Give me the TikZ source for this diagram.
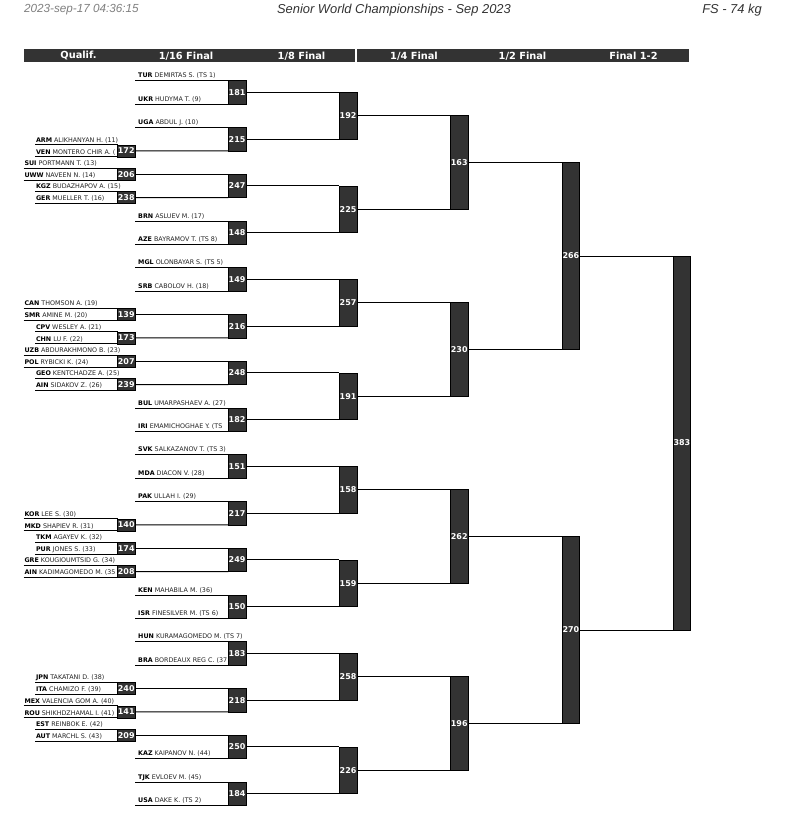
\documentclass[tikz,border=0pt]{standalone}
\usepackage{fontspec}
\newfontfamily\dvfont{DejaVu Sans}
\newfontfamily\lsfont{Liberation Sans}
\definecolor{boxgray}{HTML}{333333}
\definecolor{namegray}{HTML}{222222}
\definecolor{dategray}{HTML}{7F7F7F}
\tikzset{
  mbox/.style={draw=black, line width=0.6pt, fill=boxgray, text=white,
    font=\dvfont\bfseries\fontsize{8}{8}\selectfont, inner sep=0pt, outer sep=0pt,
    minimum width=17.5pt, anchor=north east},
  wire/.style={line width=0.9pt, draw=black},
  nm/.style={anchor=base west, inner sep=0pt, text=namegray,
    font=\dvfont\fontsize{6.35}{7}\selectfont},
  hdr/.style={text=white, inner sep=0pt, font=\dvfont\bfseries\fontsize{9.8}{10}\selectfont},
  ttl/.style={inner sep=0pt, font=\lsfont\itshape\fontsize{12.9}{13}\selectfont},
}
% qualification match: label, x left, slot y, top code, top name, bottom code, bottom name
\newcommand\qm[7]{%
  \pgfmathsetmacro\qt{#3-6}\pgfmathsetmacro\qb{#3+6}%
  \node[nm] (q#1t) at (#2+0.8,\qt-2.8) {\textbf{\color{black}#4} #5};
  \node[nm] (q#1b) at (#2+0.8,\qb-2.8) {\textbf{\color{black}#6} #7};
  \node[mbox, minimum height=12pt] (q#1) at (135,\qt) {#1};
  \coordinate (q#1l) at (#2,\qt);
  \coordinate (q#1m) at (#2,\qb);
  \draw[wire] (q#1l) -- (q#1.north west);
  \draw[wire] (q#1m) -- (q#1.south west);
}
% 1/16 match: label, y top, top text, bottom text, top source, bottom source
\newcommand\sxm[6]{%
  \pgfmathsetmacro\st{#2}\pgfmathsetmacro\sb{#2+23.4}%
  \coordinate (s#1t) at (135,\st);
  \coordinate (s#1b) at (135,\sb);
  \if\relax\detokenize{#3}\relax\else\node[nm] (n#1t) at (138,\st-2.8) {#3};\fi
  \if\relax\detokenize{#4}\relax\else\node[nm] (n#1b) at (138,\sb-2.8) {#4};\fi
  \node[mbox, minimum height=23.4pt] (m#1) at (245.8,\st) {#1};
  \draw[wire] (#5) -- (m#1.north west);
  \draw[wire] (#6) -- (m#1.south west);
}
% later rounds: label, x right, y top, y bottom, top child, bottom child
\newcommand\hm[6]{%
  \pgfmathsetmacro\hh{#4-#3}%
  \node[mbox, minimum height=\hh pt] (m#1) at (#2,#3) {#1};
  \draw[wire] (#5.east) -- (m#1.north west);
  \draw[wire] (#6.east) -- (m#1.south west);
}
\newcommand\cn[2]{\textbf{\color{black}#1} #2}
\begin{document}
\begin{tikzpicture}[x=1pt,y=-1pt]
\useasboundingbox (0,0) rectangle (787,821);
% title row
\node[ttl, anchor=west, text=dategray] (date) at (24,10) {\fontsize{11.7}{12}\selectfont 2023-sep-17 04:36:15};
\node[ttl, text=boxgray] (title) at (394,10) {Senior World Championships - Sep 2023};
\node[ttl, anchor=east, text=boxgray] (cat) at (762,10) {FS - 74 kg};
% header bar
\fill[boxgray] (23.5,49) rectangle (355.4,62.5);
\fill[boxgray] (356.9,49) rectangle (688.5,62.5);
\node[hdr] (h0) at (78.5,55.8) {Qualif.};
\node[hdr] (h1) at (186,55.8) {1/16 Final};
\node[hdr] (h2) at (301.5,55.8) {1/8 Final};
\node[hdr] (h3) at (414,55.8) {1/4 Final};
\node[hdr] (h4) at (522.5,55.8) {1/2 Final};
\node[hdr] (h5) at (633.5,55.8) {Final 1-2};
% qualification
\qm{172}{35}{150.85}{ARM}{ALIKHANYAN H. (11)}{VEN}{MONTERO CHIR A. (}
\qm{206}{23.5}{174.2}{SUI}{PORTMANN T. (13)}{UWW}{NAVEEN N. (14)}
\qm{238}{35}{197.6}{KGZ}{BUDAZHAPOV A. (15)}{GER}{MUELLER T. (16)}
\qm{139}{23.5}{314.45}{CAN}{THOMSON A. (19)}{SMR}{AMINE M. (20)}
\qm{173}{35}{337.85}{CPV}{WESLEY A. (21)}{CHN}{LU F. (22)}
\qm{207}{23.5}{361.2}{UZB}{ABDURAKHMONO B. (23)}{POL}{RYBICKI K. (24)}
\qm{239}{35}{384.6}{GEO}{KENTCHADZE A. (25)}{AIN}{SIDAKOV Z. (26)}
\qm{140}{23.5}{524.85}{KOR}{LEE S. (30)}{MKD}{SHAPIEV R. (31)}
\qm{174}{35}{548.2}{TKM}{AGAYEV K. (32)}{PUR}{JONES S. (33)}
\qm{208}{23.5}{571.6}{GRE}{KOUGIOUMTSID G. (34)}{AIN}{KADIMAGOMEDO M. (35}
\qm{240}{35}{688.45}{JPN}{TAKATANI D. (38)}{ITA}{CHAMIZO F. (39)}
\qm{141}{23.5}{711.85}{MEX}{VALENCIA GOM A. (40)}{ROU}{SHIKHDZHAMAL I. (41)}
\qm{209}{35}{735.2}{EST}{REINBOK E. (42)}{AUT}{MARCHL S. (43)}
% 1/16 final
\sxm{181}{80.7}{\cn{TUR}{DEMIRTAS S. (TS 1)}}{\cn{UKR}{HUDYMA T. (9)}}{s181t}{s181b}
\sxm{215}{127.45}{\cn{UGA}{ABDUL J. (10)}}{}{s215t}{q172.east}
\sxm{247}{174.2}{}{}{q206.east}{q238.east}
\sxm{148}{220.95}{\cn{BRN}{ASLUEV M. (17)}}{\cn{AZE}{BAYRAMOV T. (TS 8)}}{s148t}{s148b}
\sxm{149}{267.7}{\cn{MGL}{OLONBAYAR S. (TS 5)}}{\cn{SRB}{CABOLOV H. (18)}}{s149t}{s149b}
\sxm{216}{314.45}{}{}{q139.east}{q173.east}
\sxm{248}{361.2}{}{}{q207.east}{q239.east}
\sxm{182}{407.95}{\cn{BUL}{UMARPASHAEV A. (27)}}{\cn{IRI}{EMAMICHOGHAE Y. (TS}}{s182t}{s182b}
\sxm{151}{454.7}{\cn{SVK}{SALKAZANOV T. (TS 3)}}{\cn{MDA}{DIACON V. (28)}}{s151t}{s151b}
\sxm{217}{501.45}{\cn{PAK}{ULLAH I. (29)}}{}{s217t}{q140.east}
\sxm{249}{548.2}{}{}{q174.east}{q208.east}
\sxm{150}{594.95}{\cn{KEN}{MAHABILA M. (36)}}{\cn{ISR}{FINESILVER M. (TS 6)}}{s150t}{s150b}
\sxm{183}{641.7}{\cn{HUN}{KURAMAGOMEDO M. (TS 7)}}{\cn{BRA}{BORDEAUX REG C. (37}}{s183t}{s183b}
\sxm{218}{688.45}{}{}{q240.east}{q141.east}
\sxm{250}{735.2}{}{\cn{KAZ}{KAIPANOV N. (44)}}{q209.east}{s250b}
\sxm{184}{781.95}{\cn{TJK}{EVLOEV M. (45)}}{\cn{USA}{DAKE K. (TS 2)}}{s184t}{s184b}
% 1/8 final
\hm{192}{356.8}{92.4}{139.15}{m181}{m215}
\hm{225}{356.8}{185.9}{232.65}{m247}{m148}
\hm{257}{356.8}{279.4}{326.15}{m149}{m216}
\hm{191}{356.8}{372.9}{419.65}{m248}{m182}
\hm{158}{356.8}{466.4}{513.15}{m151}{m217}
\hm{159}{356.8}{559.9}{606.65}{m249}{m150}
\hm{258}{356.8}{653.4}{700.15}{m183}{m218}
\hm{226}{356.8}{746.9}{793.65}{m250}{m184}
% 1/4 final
\hm{163}{468}{115.775}{209.275}{m192}{m225}
\hm{230}{468}{302.775}{396.275}{m257}{m191}
\hm{262}{468}{489.775}{583.275}{m158}{m159}
\hm{196}{468}{676.775}{770.275}{m258}{m226}
% 1/2 final
\hm{266}{579.6}{162.525}{349.525}{m163}{m230}
\hm{270}{579.6}{536.525}{723.525}{m262}{m196}
% final
\hm{383}{690.7}{256.025}{630.025}{m266}{m270}
\end{tikzpicture}
\end{document}
